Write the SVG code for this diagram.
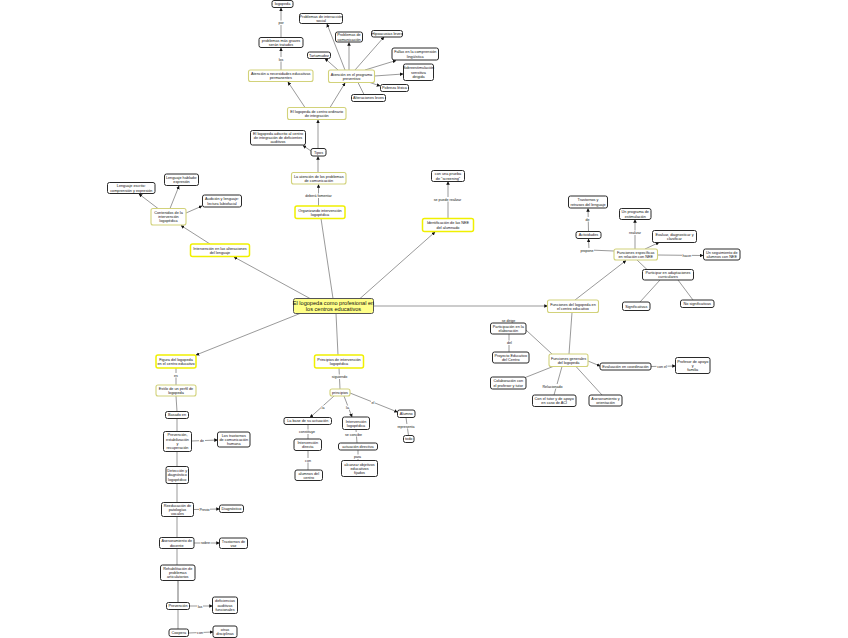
<svg xmlns="http://www.w3.org/2000/svg" width="848" height="638" viewBox="0 0 848 638">
<defs>
<marker id="ar" viewBox="0 0 10 10" refX="9" refY="5" markerWidth="3.6" markerHeight="3.6" markerUnits="userSpaceOnUse" orient="auto"><path d="M0,0L10,5L0,10z" fill="#111"/></marker>
<style>
rect{fill:#fff;stroke:#2a2a2a;stroke-width:1}
.y rect{stroke:#f0f000;stroke-width:1.5}
.p rect{stroke:#d2d27a;stroke-width:1.1}
.c rect{fill:#ffff88;stroke:#555;stroke-width:1}
text{font-family:"Liberation Sans",Arial,sans-serif;font-size:3.8px;fill:#111;text-anchor:middle}
.c text{font-size:5.6px}
#links path{fill:none;stroke:#555;stroke-width:.6}
#links .a{marker-end:url(#ar)}
#links .t{stroke:#999;stroke-width:1.4}
#labels text{font-size:3.6px}
#labels rect{fill:#fff;stroke:none}
</style>
</defs>
<rect x="0" y="0" width="848" height="638" style="fill:#fff;stroke:none"/>
<g id="links">
<path class="a" d="M281,37.5L281,8"/>
<path class="a" d="M281,70L281,48"/>
<path class="a" d="M345,70L327,24"/>
<path class="a" d="M349,70L349,42.5"/>
<path class="a" d="M355,70L384,37"/>
<path class="a" d="M338,70L325,58.5"/>
<path class="a" d="M365,70L396,60.5"/>
<path class="a" d="M374.5,76L403,74"/>
<path class="a" d="M370,82.5L380,86"/>
<path d="M358,82.5L364,94.5"/>
<path class="a" d="M305,107.5L288,82"/>
<path class="a" d="M330,107.5L345,83"/>
<path class="a" d="M318,148.5L318,120"/>
<path class="a" d="M311,151L303,145.5"/>
<path class="a" d="M318,172.5L318,156.5"/>
<path class="a" d="M318.5,206L318.5,184.5"/>
<path d="M333,298.5L321,218.5"/>
<path class="a" d="M360,298.5L435,232"/>
<path class="a" d="M448,218.5L448,181.5"/>
<path class="a" d="M310,298.5L234,257"/>
<path class="a" d="M210,244L181,225.5"/>
<path class="a" d="M158,208.5L139,194"/>
<path class="a" d="M170,208.5L179,186"/>
<path class="a" d="M186,213L202,206"/>
<path class="a" d="M373.5,306L547.5,306"/>
<path class="a" d="M575,300L626,260.5"/>
<path class="a" d="M614,251L589,250L588.5,239"/>
<path class="a" d="M588.5,231.5L588,208.5"/>
<path class="a" d="M635,249L635,219.5"/>
<path class="a" d="M645,249L659,242.5"/>
<path class="a" d="M657.5,255L703,255.5"/>
<path d="M637,260L647,269.5"/>
<path d="M660,280L640,302"/>
<path d="M678,280L693,300"/>
<path d="M572,312.5L569,354"/>
<path d="M552,354L526,330"/>
<path d="M509,334L509,352"/>
<path class="a" d="M588,361L600,366"/>
<path class="a" d="M651,366.5L675.5,366"/>
<path d="M553,366.5L524,378"/>
<path d="M562,366.5L554,395"/>
<path d="M576,366.5L602,395"/>
<path class="a" d="M300,313.5L196,355"/>
<path d="M176,368L176,385"/>
<path d="M176,396L177,411.5"/>
<path d="M177,418.5L177,431.5"/>
<path d="M177,451.5L177,466.5"/>
<path d="M177,483.5L177,502.5"/>
<path d="M177,516.5L177,537.5"/>
<path d="M177,548.5L177,565"/>
<path class="t" d="M178,580.5L178,602.5"/>
<path d="M178,609.5L178,629"/>
<path class="a" d="M191.5,441L217.5,440"/>
<path class="a" d="M193.5,509.5L219.5,509"/>
<path class="a" d="M194,543L219.5,543"/>
<path class="a" d="M189.5,606L212.5,606"/>
<path class="a" d="M188.5,633L213,632"/>
<path d="M336,313.5L338,355"/>
<path d="M339,368L340,389"/>
<path class="a" d="M334,396L310,417.5"/>
<path class="a" d="M344,396L352,417"/>
<path class="a" d="M350,393L397.5,412"/>
<path d="M406,417.5L408.5,435.5"/>
<path d="M308,424.5L308,439"/>
<path d="M308,450.5L308,470"/>
<path d="M356,429.5L357,443"/>
<path d="M358,450L358,460.5"/>
</g>
<g id="labels">
<rect x="277.5" y="20.5" width="7" height="4.5"/><text x="281" y="24">por</text>
<rect x="277.5" y="57" width="7" height="4.5"/><text x="281" y="60.5">los</text>
<rect x="305" y="193.5" width="27" height="4.5"/><text x="318.5" y="197">deberá fomentar</text>
<rect x="433.5" y="197" width="28" height="4.5"/><text x="447.5" y="200.5">se puede realizar</text>
<rect x="584.5" y="217" width="6" height="4.5"/><text x="587.5" y="220.5">de</text>
<rect x="580" y="248" width="14" height="4.5"/><text x="587" y="251.5">propone</text>
<rect x="628.5" y="230.5" width="13" height="4.5"/><text x="635" y="234">realizar</text>
<rect x="682" y="253.5" width="10" height="4.5"/><text x="687" y="257">hacer</text>
<text x="508.5" y="321.5">se dirige</text>
<rect x="506" y="340.5" width="7" height="4.5"/><text x="509.5" y="344">del</text>
<rect x="656.5" y="364" width="11" height="4.5"/><text x="662" y="367.5">con el</text>
<rect x="542.5" y="384" width="20" height="4.5"/><text x="552.5" y="387.5">Relacionado</text>
<rect x="173" y="373" width="6" height="4.5"/><text x="176" y="376.5">es</text>
<rect x="199" y="438.5" width="6" height="4.5"/><text x="202" y="442">de</text>
<rect x="199" y="507" width="11" height="4.5"/><text x="204.5" y="510.5">Previo</text>
<rect x="200.5" y="540.5" width="10" height="4.5"/><text x="205.5" y="544">sobre</text>
<rect x="197" y="604" width="6" height="4.5"/><text x="200" y="607.5">las</text>
<rect x="196.5" y="630" width="7" height="4.5"/><text x="200" y="633.5">con</text>
<rect x="331.5" y="374.5" width="16" height="4.5"/><text x="339.5" y="378">siguiendo</text>
<rect x="321" y="405.5" width="4" height="4.5"/><text x="323" y="409">la</text>
<rect x="345.5" y="405.5" width="4" height="4.5"/><text x="347.5" y="409">la</text>
<rect x="371" y="400" width="4" height="4.5"/><text x="373" y="403.5">el</text>
<rect x="397" y="424" width="18" height="4.5"/><text x="406" y="427.5">representa</text>
<rect x="298" y="429.5" width="18" height="4.5"/><text x="307" y="433">constituye</text>
<rect x="304.5" y="458" width="7" height="4.5"/><text x="308" y="461.5">con</text>
<rect x="344.5" y="432" width="18" height="4.5"/><text x="353.5" y="435.5">se concibe</text>
<rect x="353.5" y="454.5" width="8" height="4.5"/><text x="357.5" y="458">para</text>
</g>
<g id="n1"><rect x="272" y="0.5" width="21" height="7" rx="2"/><text x="282.5" y="5.4">logopeda</text></g>
<g id="n2"><rect x="259" y="37.5" width="44" height="10" rx="2"/><text x="281" y="41.75">problemas más graves</text><text x="281" y="46.05">serán tratados</text></g>
<g id="n3" class="p"><rect x="248.5" y="70" width="64.5" height="11.5" rx="2"/><text x="280.75" y="75">Atención a necesidades educativas</text><text x="280.75" y="79.3">permanentes</text></g>
<g id="n4"><rect x="299.5" y="13.5" width="43" height="10" rx="2"/><text x="321" y="17.75">Problemas de interacción</text><text x="321" y="22.05">social</text></g>
<g id="n5"><rect x="335.5" y="32" width="27" height="10" rx="2"/><text x="349" y="36.25">Problemas de</text><text x="349" y="40.55">comunicación</text></g>
<g id="n6"><rect x="371.5" y="30.5" width="31" height="6.5" rx="2"/><text x="387" y="35.15">Hipoacusias leves</text></g>
<g id="n7"><rect x="307.5" y="52" width="23" height="6.5" rx="2"/><text x="319" y="56.65">Tartamudez</text></g>
<g id="n8"><rect x="392" y="48" width="46.5" height="12" rx="2"/><text x="415.25" y="53.25">Fallas en la comprensión</text><text x="415.25" y="57.55">lingüística</text></g>
<g id="n9" class="p"><rect x="328.5" y="70" width="46" height="12.5" rx="2"/><text x="351.5" y="75.5">Atención en el programa</text><text x="351.5" y="79.8">preventivo</text></g>
<g id="n10"><rect x="403.5" y="64" width="30" height="16.5" rx="2"/><text x="418.5" y="69.35">Sobreestimulación</text><text x="418.5" y="73.65">sensitiva</text><text x="418.5" y="77.95">dirigida</text></g>
<g id="n11"><rect x="380.5" y="84.5" width="28" height="7" rx="2"/><text x="394.5" y="89.4">Pobreza léxica</text></g>
<g id="n12"><rect x="351.5" y="94.5" width="34" height="7" rx="2"/><text x="368.5" y="99.4">Alteraciones leves</text></g>
<g id="n13" class="p"><rect x="287.5" y="107.5" width="58.5" height="12" rx="2"/><text x="316.75" y="112.75">El logopeda de centro ordinario</text><text x="316.75" y="117.05">de integración</text></g>
<g id="n14"><rect x="250.5" y="130.5" width="55" height="14.5" rx="2"/><text x="278" y="134.85">El logopeda adscrito al centro</text><text x="278" y="139.15">de integración de deficientes</text><text x="278" y="143.45">auditivos</text></g>
<g id="n15"><rect x="311" y="148.5" width="15" height="7.5" rx="2"/><text x="318.5" y="153.65">Tipos</text></g>
<g id="n16" class="p"><rect x="291.5" y="172.5" width="54.5" height="11.5" rx="2"/><text x="318.75" y="177.5">La atención de los problemas</text><text x="318.75" y="181.8">de comunicación</text></g>
<g id="n17" class="y"><rect x="295" y="206" width="50" height="12.5" rx="2"/><text x="320" y="211.5">Organizando intervención</text><text x="320" y="215.8">logopédica</text></g>
<g id="n18"><rect x="431.5" y="170.5" width="33" height="11" rx="2"/><text x="448" y="175.25">con una prueba</text><text x="448" y="179.55">de "screening"</text></g>
<g id="n19" class="y"><rect x="422.5" y="218.5" width="51" height="13" rx="2"/><text x="448" y="224.25">Identificación de las NEE</text><text x="448" y="228.55">del alumnado</text></g>
<g id="n20"><rect x="107.5" y="182.5" width="47.5" height="11" rx="2"/><text x="131.25" y="187.25">Lenguaje escrito:</text><text x="131.25" y="191.55">comprensión y expresión</text></g>
<g id="n21"><rect x="164.5" y="174" width="34" height="11.5" rx="2"/><text x="181.5" y="179">Lenguaje hablado:</text><text x="181.5" y="183.3">expresión</text></g>
<g id="n22"><rect x="202.5" y="195" width="39" height="12" rx="2"/><text x="222" y="200.25">Audición y lenguaje:</text><text x="222" y="204.55">lectura labiofacial</text></g>
<g id="n23" class="p"><rect x="151" y="208.5" width="35" height="16.5" rx="2"/><text x="168.5" y="213.85">Contenidos de la</text><text x="168.5" y="218.15">intervención</text><text x="168.5" y="222.45">logopédica</text></g>
<g id="n24" class="y"><rect x="190.5" y="244" width="59" height="12.5" rx="2"/><text x="220" y="249.5">Intervención en las alteraciones</text><text x="220" y="253.8">del lenguaje</text></g>
<g id="n25"><rect x="568.5" y="196" width="39" height="12" rx="2"/><text x="588" y="201.25">Trastornos y</text><text x="588" y="205.55">retrasos del lenguaje</text></g>
<g id="n26"><rect x="576" y="231.5" width="25" height="7" rx="2"/><text x="588.5" y="236.4">Actividades</text></g>
<g id="n27"><rect x="619.5" y="208.5" width="31.5" height="11" rx="2"/><text x="635.25" y="213.25">Un programa de</text><text x="635.25" y="217.55">estimulación</text></g>
<g id="n28"><rect x="652.5" y="230.5" width="44" height="12" rx="2"/><text x="674.5" y="235.75">Evaluar, diagnosticar y</text><text x="674.5" y="240.05">clasificar</text></g>
<g id="n29" class="p"><rect x="614" y="249" width="43.5" height="11" rx="2"/><text x="635.75" y="253.75">Funciones específicas</text><text x="635.75" y="258.05">en relación con NEE</text></g>
<g id="n30"><rect x="703.5" y="249" width="36.5" height="11" rx="2"/><text x="721.75" y="253.75">Un seguimiento de</text><text x="721.75" y="258.05">alumnos con NEE</text></g>
<g id="n31"><rect x="642.5" y="269.5" width="51" height="10.5" rx="2"/><text x="668" y="274">Participar en adaptaciones</text><text x="668" y="278.3">curriculares</text></g>
<g id="n32"><rect x="622.5" y="302" width="27.5" height="8.5" rx="2"/><text x="636.25" y="307.65">Significativas</text></g>
<g id="n33"><rect x="680.5" y="300" width="33.5" height="7.5" rx="2"/><text x="697.25" y="305.15">No significativas</text></g>
<g id="n34" class="p"><rect x="547.5" y="300" width="51" height="12.5" rx="2"/><text x="573" y="305.5">Funciones del logopeda en</text><text x="573" y="309.8">el centro educativo</text></g>
<g id="n35" class="c"><rect x="293.5" y="298.5" width="80" height="15" rx="2"/><text x="333.5" y="305">El logopeda como profesional en</text><text x="333.5" y="310.8">los centros educativos</text></g>
<g id="n36"><rect x="490.5" y="323" width="35.5" height="11" rx="2"/><text x="508.25" y="327.75">Participación en la</text><text x="508.25" y="332.05">elaboración</text></g>
<g id="n37"><rect x="492.5" y="352" width="36.5" height="11" rx="2"/><text x="510.75" y="356.75">Proyecto Educativo</text><text x="510.75" y="361.05">del Centro</text></g>
<g id="n38" class="p"><rect x="549" y="354" width="39" height="12.5" rx="2"/><text x="568.5" y="359.5">Funciones generales</text><text x="568.5" y="363.8">del logopeda</text></g>
<g id="n39"><rect x="600" y="363" width="51" height="7" rx="2"/><text x="625.5" y="367.9">Evaluación en coordinación</text></g>
<g id="n40"><rect x="675.5" y="357.5" width="34.5" height="16" rx="2"/><text x="692.75" y="362.6">Profesor de apoyo</text><text x="692.75" y="366.9">y</text><text x="692.75" y="371.2">familia</text></g>
<g id="n41"><rect x="490.5" y="377" width="35.5" height="12" rx="2"/><text x="508.25" y="382.25">Colaboración con</text><text x="508.25" y="386.55">el profesor y tutor</text></g>
<g id="n42"><rect x="532.5" y="395" width="43.5" height="11.5" rx="2"/><text x="554.25" y="400">Con el tutor y de apoyo</text><text x="554.25" y="404.3">en caso de ACI</text></g>
<g id="n43"><rect x="589" y="395" width="33" height="11" rx="2"/><text x="605.5" y="399.75">Asesoramiento y</text><text x="605.5" y="404.05">orientación</text></g>
<g id="n44" class="y"><rect x="156" y="355" width="40" height="13" rx="2"/><text x="176" y="360.75">Figura del logopeda</text><text x="176" y="365.05">en el centro educativo</text></g>
<g id="n45" class="p"><rect x="156" y="385" width="40" height="11" rx="2"/><text x="176" y="389.75">Estilo de un perfil de</text><text x="176" y="394.05">logopeda</text></g>
<g id="n46"><rect x="165.5" y="411.5" width="23" height="7" rx="2"/><text x="177" y="416.4">Basado en</text></g>
<g id="n47"><rect x="163.5" y="431.5" width="28" height="20" rx="2"/><text x="177.5" y="436.45">Prevención,</text><text x="177.5" y="440.75">estabilización</text><text x="177.5" y="445.05">y</text><text x="177.5" y="449.35">recuperación</text></g>
<g id="n48"><rect x="217.5" y="432" width="32.5" height="15" rx="2"/><text x="233.75" y="436.6">Los trastornos</text><text x="233.75" y="440.9">de comunicación</text><text x="233.75" y="445.2">humana</text></g>
<g id="n49"><rect x="166" y="466.5" width="22.5" height="17" rx="2"/><text x="177.25" y="472.1">Detección y</text><text x="177.25" y="476.4">diagnóstico</text><text x="177.25" y="480.7">logopédico</text></g>
<g id="n50"><rect x="161.5" y="502.5" width="32" height="14" rx="2"/><text x="177.5" y="506.6">Reeducación de</text><text x="177.5" y="510.9">patologías</text><text x="177.5" y="515.2">vocales</text></g>
<g id="n51"><rect x="219.5" y="505" width="24" height="7.5" rx="2"/><text x="231.5" y="510.15">Diagnóstico</text></g>
<g id="n52"><rect x="159.5" y="537.5" width="34.5" height="11" rx="2"/><text x="176.75" y="542.25">Asesoramiento de</text><text x="176.75" y="546.55">docente</text></g>
<g id="n53"><rect x="219.5" y="538" width="28" height="10.5" rx="2"/><text x="233.5" y="542.5">Trastornos de</text><text x="233.5" y="546.8">voz</text></g>
<g id="n54"><rect x="160.5" y="565" width="34.5" height="15.5" rx="2"/><text x="177.75" y="569.85">Rehabilitación de</text><text x="177.75" y="574.15">problemas</text><text x="177.75" y="578.45">articulatorios</text></g>
<g id="n55"><rect x="166.5" y="602.5" width="23" height="7" rx="2"/><text x="178" y="607.4">Prevención</text></g>
<g id="n56"><rect x="212.5" y="597" width="25" height="16.5" rx="2"/><text x="225" y="602.35">deficiencias</text><text x="225" y="606.65">auditivas</text><text x="225" y="610.95">funcionales</text></g>
<g id="n57"><rect x="169" y="629" width="19.5" height="7.5" rx="2"/><text x="178.75" y="634.15">Coopera</text></g>
<g id="n58"><rect x="213" y="626" width="24" height="11.5" rx="2"/><text x="225" y="631">otras</text><text x="225" y="635.3">disciplinas</text></g>
<g id="n59" class="y"><rect x="314.5" y="355" width="49" height="13" rx="2"/><text x="339" y="360.75">Principios de intervención</text><text x="339" y="365.05">logopédica</text></g>
<g id="n60" class="p"><rect x="330" y="389" width="20" height="7" rx="2"/><text x="340" y="393.9">principios</text></g>
<g id="n61"><rect x="284" y="417.5" width="47.5" height="7" rx="2"/><text x="307.75" y="422.4">La base de su actuación</text></g>
<g id="n62"><rect x="342.5" y="417" width="27" height="12.5" rx="2"/><text x="356" y="422.5">Intervención</text><text x="356" y="426.8">logopédica</text></g>
<g id="n63"><rect x="397.5" y="410" width="17.5" height="7.5" rx="2"/><text x="406.25" y="415.15">Alumno</text></g>
<g id="n64"><rect x="403.5" y="435.5" width="10.5" height="7" rx="2"/><text x="408.75" y="440.4">todo</text></g>
<g id="n65"><rect x="294" y="439" width="27.5" height="11.5" rx="2"/><text x="307.75" y="444">Intervención</text><text x="307.75" y="448.3">directa</text></g>
<g id="n66"><rect x="295" y="470" width="27.5" height="10.5" rx="2"/><text x="308.75" y="474.5">alumnos del</text><text x="308.75" y="478.8">centro</text></g>
<g id="n67"><rect x="338.5" y="443" width="39" height="7" rx="2"/><text x="358" y="447.9">actuación directiva</text></g>
<g id="n68"><rect x="341.5" y="460.5" width="36" height="16" rx="2"/><text x="359.5" y="465.6">alcanzar objetivos</text><text x="359.5" y="469.9">educativos</text><text x="359.5" y="474.2">fijados</text></g>
</svg>
